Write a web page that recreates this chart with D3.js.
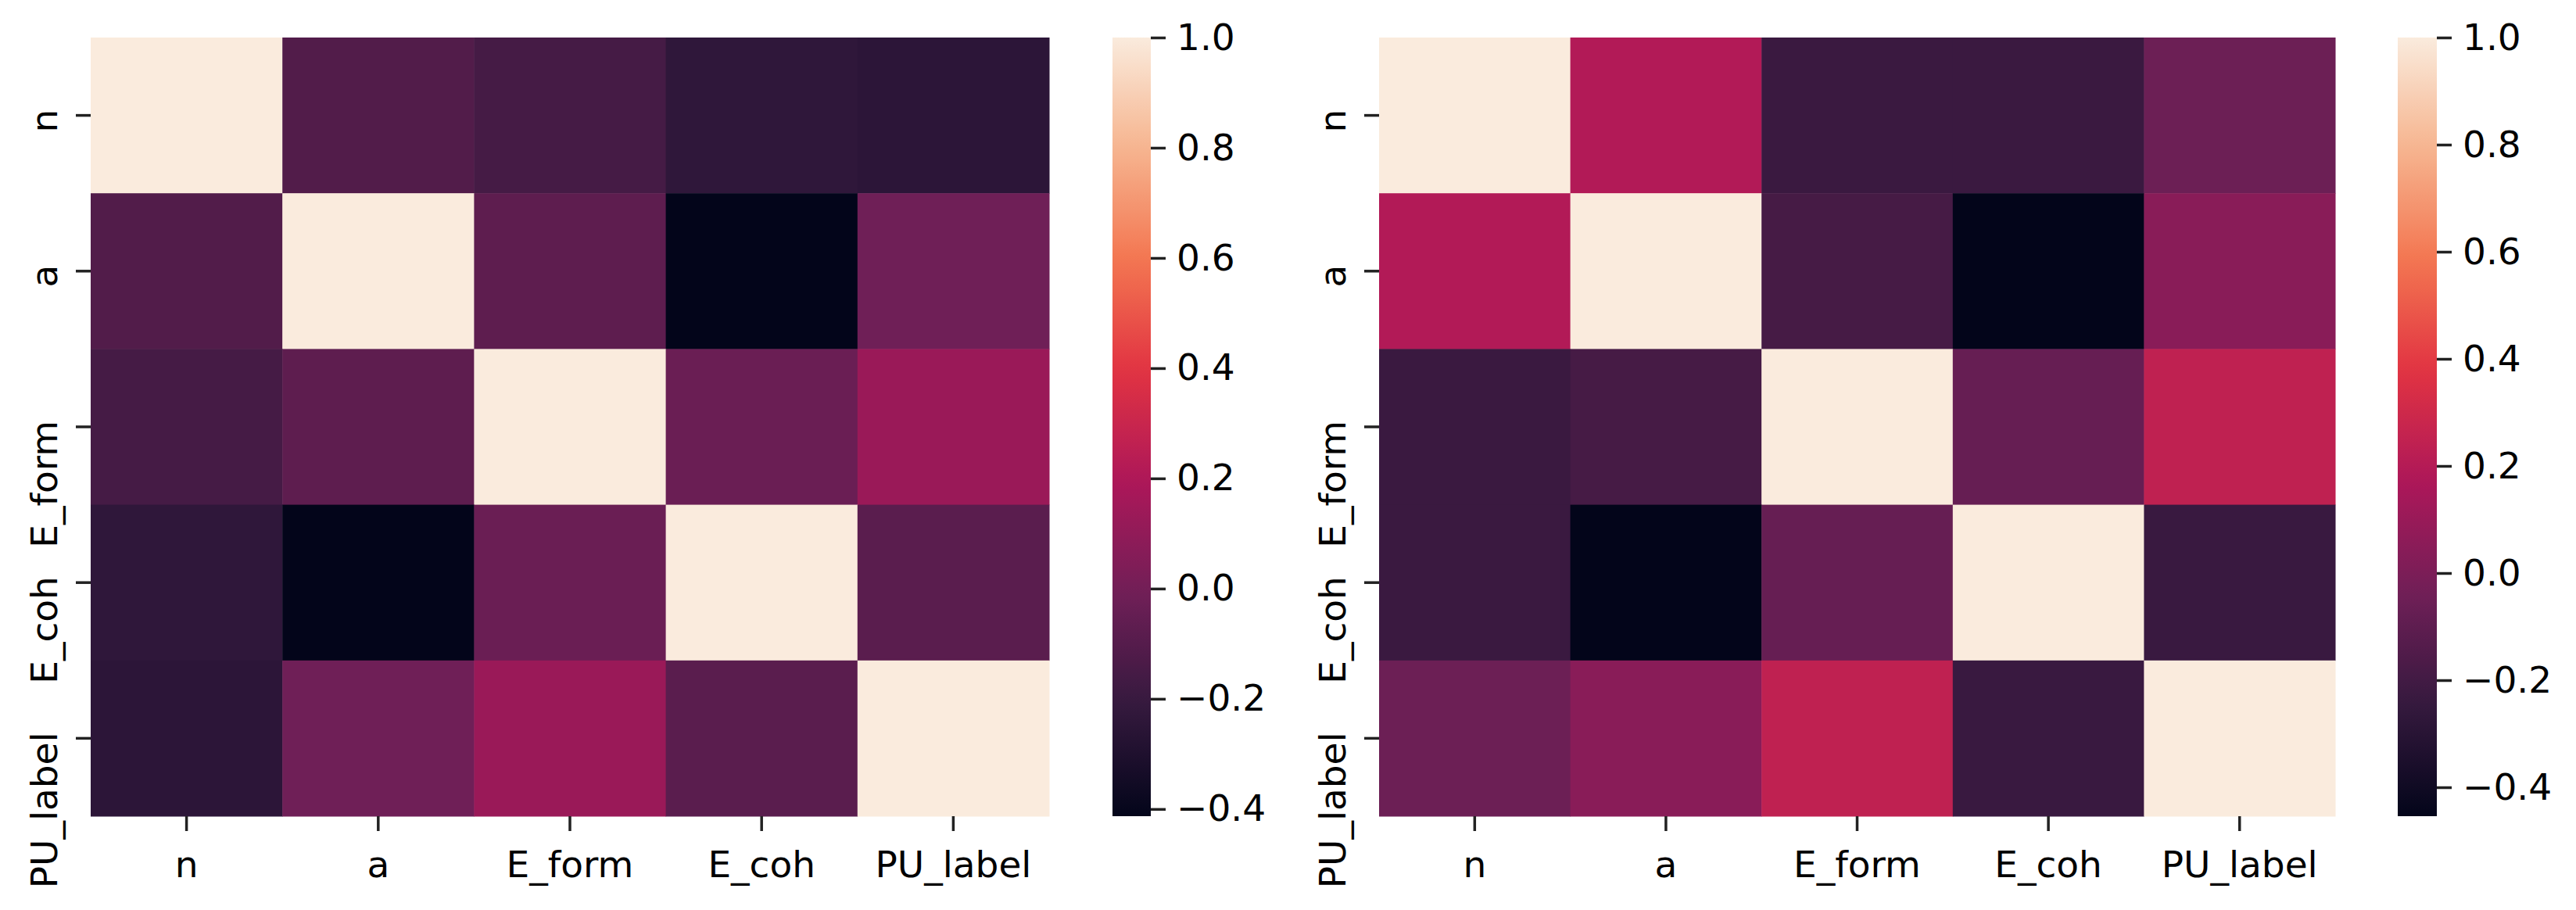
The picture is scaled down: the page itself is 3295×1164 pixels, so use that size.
<!DOCTYPE html>
<html><head><meta charset="utf-8">
<script src="https://cdn.jsdelivr.net/npm/d3@7"></script>
<style>body{margin:0;background:#fff} text{font-family:"DejaVu Sans",sans-serif;}</style>
</head><body><svg id="c" width="3295" height="1164"></svg>
<script>
const labels = ["n","a","E_form","E_coh","PU_label"];
const matrixLeft = [
  [ 1.000, -0.112, -0.156, -0.235, -0.247],
  [-0.112,  1.000, -0.071, -0.413, -0.013],
  [-0.156, -0.071,  1.000, -0.030,  0.130],
  [-0.235, -0.413, -0.030,  1.000, -0.084],
  [-0.247, -0.013,  0.130, -0.084,  1.000]
];
const matrixRight = [
  [ 1.000,  0.190, -0.230, -0.230, -0.053],
  [ 0.190,  1.000, -0.186, -0.454,  0.047],
  [-0.230, -0.186,  1.000, -0.073,  0.240],
  [-0.230, -0.454, -0.073,  1.000, -0.233],
  [-0.053,  0.047,  0.240, -0.233,  1.000]
];
const rangeLeft = [-0.413, 1.0];
const rangeRight = [-0.454, 1.0];
const cbarTicks = [-0.4, -0.2, 0.0, 0.2, 0.4, 0.6, 0.8, 1.0];
const rocketStops = ["#03051a","#35193e","#701f57","#ad1759","#e13342","#f37651","#f6b48f","#faebdd"];

const rocket = d3.scaleLinear()
  .domain(rocketStops.map((_, i) => i / (rocketStops.length - 1)))
  .range(rocketStops)
  .interpolate(d3.interpolateRgb)
  .clamp(true);

const svg = d3.select("#c");
svg.append("rect").attr("width", 3295).attr("height", 1164).attr("fill", "#fff");
const FS = 47, TICK = 19, TW = 3.5, TC = "#222";

function panel(id, matrix, range, hx0, hx1, cx0, cx1) {
  const top = 48, bottom = 1044;
  const g = svg.append("g").attr("id", id);
  const x = d3.scaleBand().domain(labels).range([hx0, hx1]);
  const y = d3.scaleBand().domain(labels).range([top, bottom]);
  const t = d3.scaleLinear().domain(range).range([0, 1]);
  const cells = [];
  matrix.forEach((row, i) => row.forEach((v, j) => cells.push({r: labels[i], c: labels[j], v})));
  g.append("g").selectAll("rect").data(cells).join("rect")
    .attr("x", d => x(d.c)).attr("y", d => y(d.r))
    .attr("width", x.bandwidth() + 0.5).attr("height", y.bandwidth() + 0.5)
    .attr("fill", d => rocket(t(d.v)));

  // x axis
  const xa = g.append("g").attr("transform", `translate(0,${bottom})`)
    .call(d3.axisBottom(x).tickSize(TICK).tickPadding(26));
  xa.select(".domain").remove();
  xa.selectAll("line").attr("stroke", TC).attr("stroke-width", TW);
  xa.selectAll("text").attr("font-size", FS).attr("fill", "#000").attr("font-family", "DejaVu Sans");

  // y axis (rotated labels anchored at their end, as matplotlib rotation_mode='anchor')
  const ya = g.append("g").attr("transform", `translate(${hx0},0)`)
    .call(d3.axisLeft(y).tickSize(TICK));
  ya.select(".domain").remove();
  ya.selectAll("line").attr("stroke", TC).attr("stroke-width", TW);
  ya.selectAll("text").attr("font-size", FS).attr("fill", "#000").attr("font-family", "DejaVu Sans")
    .attr("transform", "rotate(-90)").attr("x", 8).attr("y", -43)
    .attr("dy", 0).attr("text-anchor", "end");

  // colorbar
  const cs = d3.scaleLinear().domain(range).range([bottom, top]);
  const gradId = id + "grad";
  const grad = svg.append("defs").append("linearGradient").attr("id", gradId)
    .attr("x1", 0).attr("y1", 1).attr("x2", 0).attr("y2", 0);
  d3.range(0, 1.0001, 0.02).forEach(s => {
    grad.append("stop").attr("offset", s).attr("stop-color", rocket(s));
  });
  g.append("rect").attr("x", cx0).attr("y", top).attr("width", cx1 - cx0).attr("height", bottom - top)
    .attr("fill", `url(#${gradId})`);
  const ca = g.append("g").attr("transform", `translate(${cx1},0)`)
    .call(d3.axisRight(cs).tickValues(cbarTicks).tickFormat(d3.format(".1f")).tickSize(TICK).tickPadding(14));
  ca.select(".domain").remove();
  ca.selectAll("line").attr("stroke", TC).attr("stroke-width", TW);
  ca.selectAll("text").attr("font-size", FS).attr("fill", "#000").attr("font-family", "DejaVu Sans");
}

panel("left", matrixLeft, rangeLeft, 116, 1342, 1423, 1472);
panel("right", matrixRight, rangeRight, 1764, 2987, 3067, 3117);
</script></body></html>
